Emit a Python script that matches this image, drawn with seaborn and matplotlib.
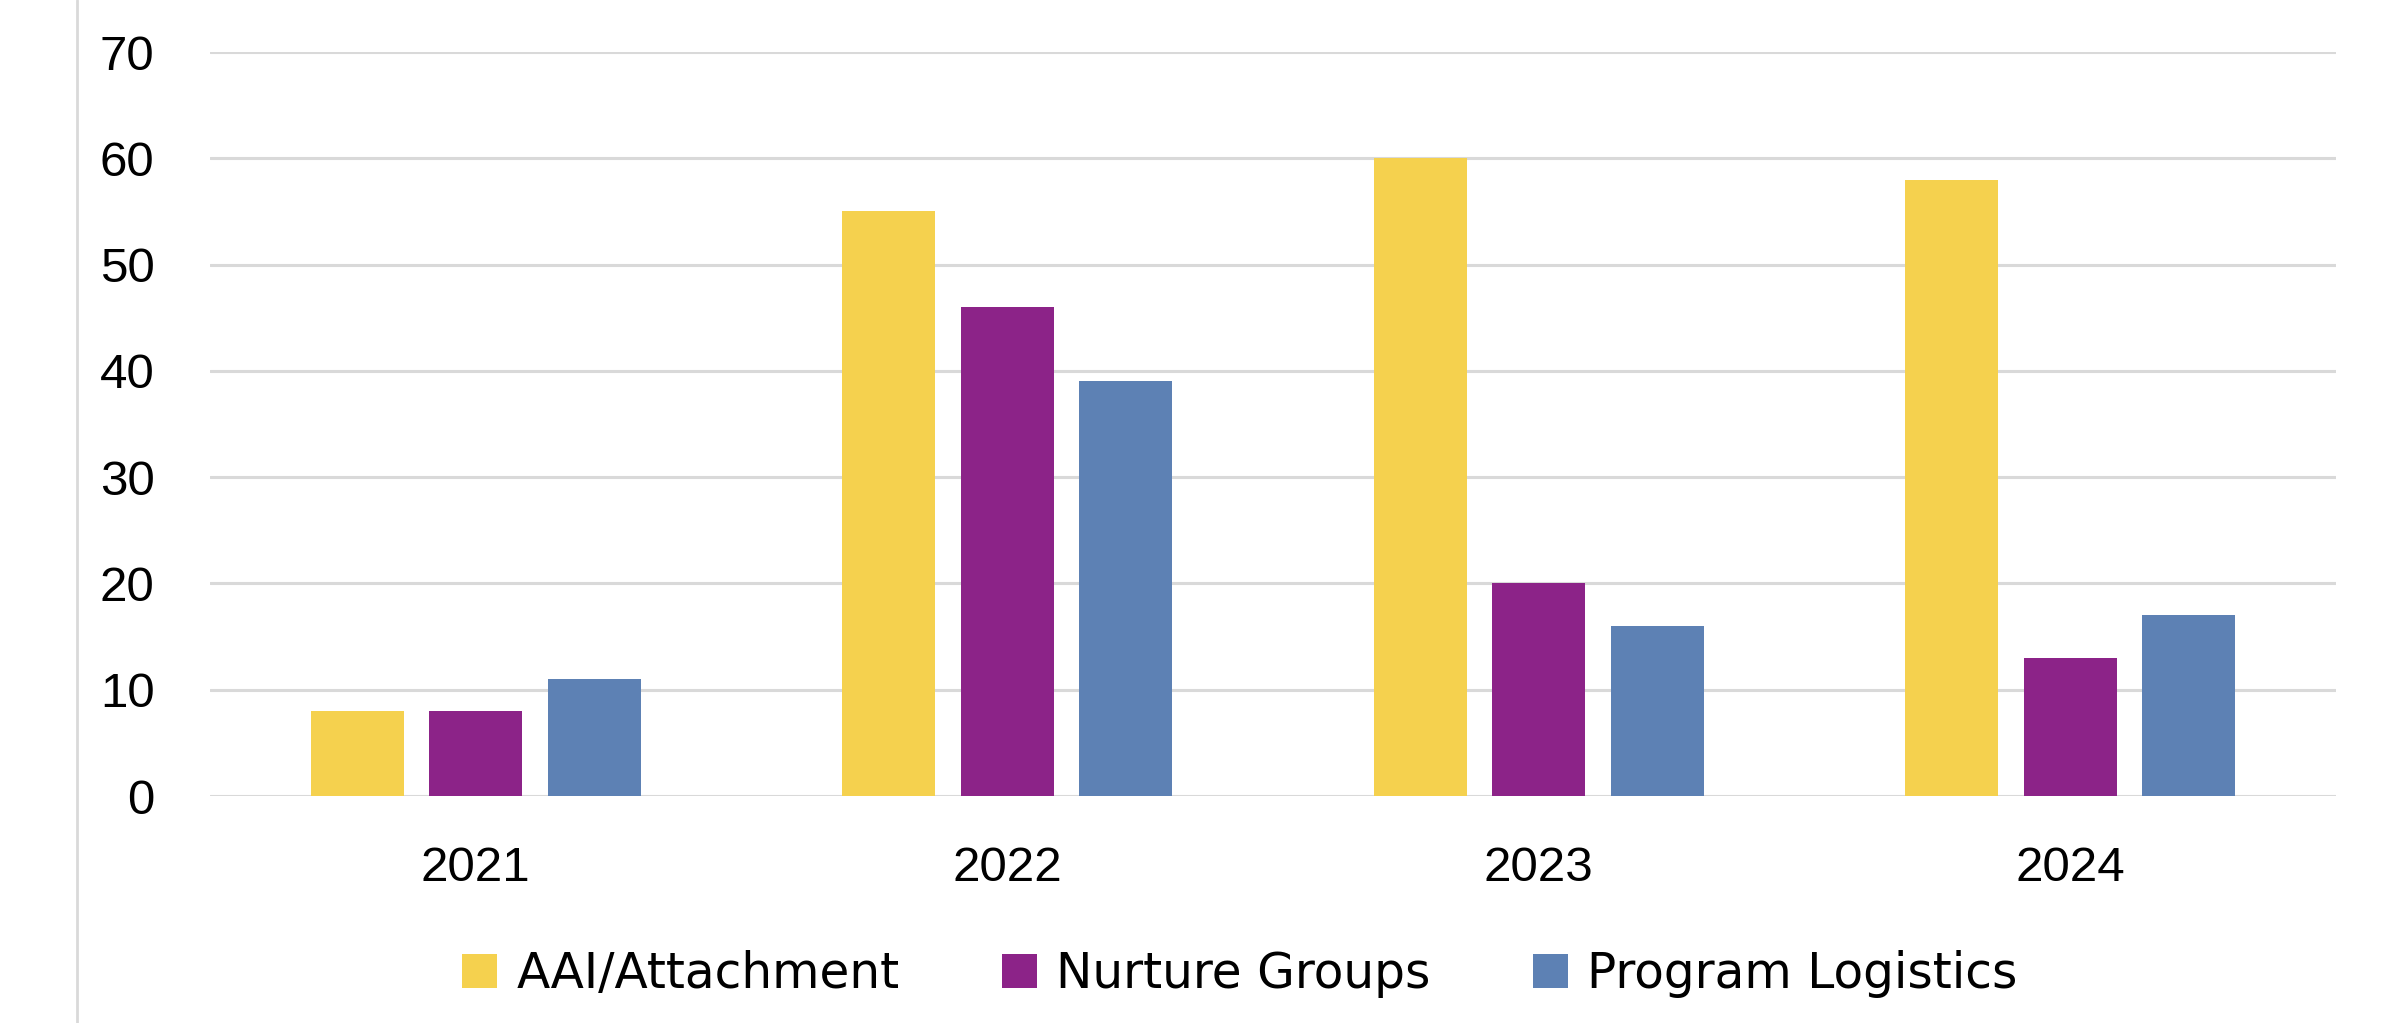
import matplotlib
matplotlib.use("Agg")
import matplotlib.pyplot as plt
from matplotlib.lines import Line2D
import seaborn as sns
import pandas as pd

years = ["2021", "2022", "2023", "2024"]
series = ["AAI/Attachment", "Nurture Groups", "Program Logistics"]
aai = [8, 55, 60, 58]
nurture = [8, 46, 20, 13]
logistics = [11, 39, 16, 17]
colors = ["#F5D14E", "#8C2388", "#5D81B4"]
yticks = [0, 10, 20, 30, 40, 50, 60, 70]

rows = []
for s, vals in zip(series, [aai, nurture, logistics]):
    for y, v in zip(years, vals):
        rows.append({"Year": y, "Series": s, "Value": v})
df = pd.DataFrame(rows)

sns.set_theme(style="white")
plt.rcParams["font.family"] = ["Liberation Sans", "DejaVu Sans"]
plt.rcParams["text.color"] = "black"

W, H = 2383, 1023
fig = plt.figure(figsize=(W / 100, H / 100), dpi=100)
ax = fig.add_axes([210 / W, 1 - 796 / H, (2336 - 210) / W, (796 - 52) / H])

sns.barplot(data=df, x="Year", y="Value", hue="Series", order=years,
            hue_order=series, palette=colors, width=0.669, gap=0.215,
            linewidth=0, saturation=1, ax=ax, legend=False)

ax.set_xlim(-0.5, 3.5)
ax.set_ylim(0, 70)
ax.set_yticks(yticks)
ax.set_yticklabels([str(t) for t in yticks])
ax.yaxis.grid(True, color="#D9D9D9", linewidth=2.2)
ax.set_axisbelow(True)
for sp in ax.spines.values():
    sp.set_visible(False)
ax.set_xlabel("")
ax.set_ylabel("")
ax.tick_params(axis="y", length=0, pad=40, labelsize=35.5, labelcolor="black")
ax.tick_params(axis="x", length=0, pad=36, labelsize=35.5, labelcolor="black")

# left vertical border line of the screenshot
fig.add_artist(Line2D([77 / W, 77 / W], [0, 1], transform=fig.transFigure,
                      color="#D9D9D9", linewidth=2))

handles = [plt.Rectangle((0, 0), 1, 1, facecolor=c, edgecolor="none") for c in colors]
fig.legend(handles, series, loc="center", bbox_to_anchor=(1240 / W, 1 - 974 / H),
           ncol=3, frameon=False, handlelength=0.72, handleheight=0.72,
           handletextpad=0.4, columnspacing=2.1, labelcolor="black",
           prop={"family": ["DejaVu Sans"], "size": 35})

fig.savefig("out.png", dpi=100)
